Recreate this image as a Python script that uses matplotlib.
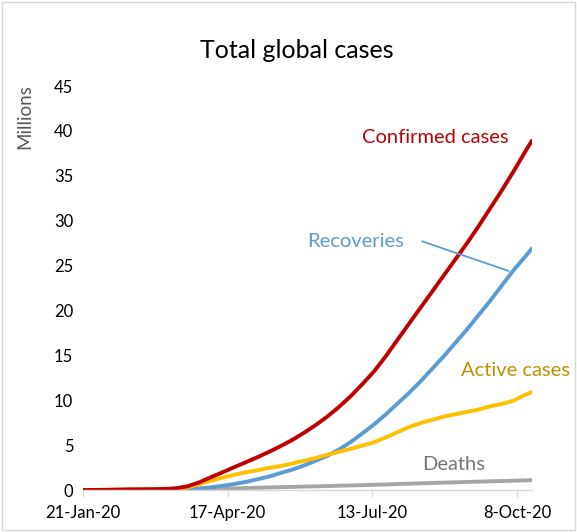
import matplotlib
matplotlib.use("Agg")
import matplotlib.pyplot as plt
from matplotlib.patches import Rectangle
import pandas as pd

plt.rcParams["font.family"] = ["Lato", "DejaVu Sans"]

# weekly cumulative global counts, millions
dates = pd.to_datetime([
    "2020-01-21", "2020-01-28", "2020-02-04", "2020-02-11", "2020-02-18",
    "2020-02-25", "2020-03-03", "2020-03-10", "2020-03-17", "2020-03-24",
    "2020-03-31", "2020-04-07", "2020-04-14", "2020-04-21", "2020-04-28",
    "2020-05-05", "2020-05-12", "2020-05-19", "2020-05-26", "2020-06-02",
    "2020-06-09", "2020-06-16", "2020-06-23", "2020-06-30", "2020-07-07",
    "2020-07-14", "2020-07-21", "2020-07-28", "2020-08-04", "2020-08-11",
    "2020-08-18", "2020-08-25", "2020-09-01", "2020-09-08", "2020-09-15",
    "2020-09-22", "2020-09-29", "2020-10-06", "2020-10-13", "2020-10-17",
])
confirmed = [0.0006, 0.0056, 0.024, 0.045, 0.075, 0.081, 0.093, 0.119, 0.198, 0.42,
             0.86, 1.43, 1.98, 2.55, 3.10, 3.66, 4.26, 4.90, 5.59, 6.38,
             7.24, 8.19, 9.26, 10.45, 11.79, 13.2, 14.87, 16.69, 18.5, 20.3,
             22.1, 23.9, 25.7, 27.5, 29.4, 31.4, 33.4, 35.5, 37.7, 38.9]
recovered = [0.00003, 0.0001, 0.0008, 0.005, 0.016, 0.030, 0.048, 0.064, 0.080, 0.097,
             0.178, 0.30, 0.47, 0.67, 0.91, 1.20, 1.50, 1.90, 2.28, 2.74,
             3.26, 3.81, 4.52, 5.34, 6.3, 7.3, 8.4, 9.6, 10.8, 12.1,
             13.5, 14.9, 16.4, 17.9, 19.5, 21.1, 22.8, 24.5, 26.0, 26.9]
active = [0.0006, 0.0054, 0.023, 0.039, 0.057, 0.048, 0.042, 0.051, 0.110, 0.304,
          0.640, 1.048, 1.383, 1.702, 1.972, 2.207, 2.472, 2.675, 2.961, 3.259,
          3.57, 3.936, 4.261, 4.598, 4.947, 5.317, 5.853, 6.426, 7.003, 7.456,
          7.815, 8.174, 8.443, 8.701, 8.965, 9.331, 9.595, 9.96, 10.62, 10.9]
deaths = [0.00002, 0.0001, 0.0004, 0.001, 0.002, 0.0027, 0.0032, 0.0043, 0.0079, 0.019,
          0.042, 0.082, 0.127, 0.178, 0.218, 0.253, 0.288, 0.325, 0.349, 0.381,
          0.410, 0.444, 0.479, 0.512, 0.543, 0.583, 0.617, 0.664, 0.697, 0.744,
          0.785, 0.826, 0.857, 0.899, 0.935, 0.969, 1.005, 1.04, 1.078, 1.10]

tick_dates = pd.to_datetime(["2020-01-21", "2020-04-17", "2020-07-13", "2020-10-08"])
tick_labels = ["21-Jan-20", "17-Apr-20", "13-Jul-20", "8-Oct-20"]

fig = plt.figure(figsize=(5.77, 5.32), dpi=100)
ax = fig.add_axes([0.1438, 0.0789, 0.778, 0.7594])

lw = 2.8
ax.plot(dates, deaths, color="#a5a5a5", lw=lw, solid_capstyle="round")
ax.plot(dates, recovered, color="#5b9bd5", lw=lw, solid_capstyle="round")
ax.plot(dates, active, color="#ffc000", lw=lw, solid_capstyle="round")
ax.plot(dates, confirmed, color="#c00000", lw=lw, solid_capstyle="round")

ax.set_xlim(dates[0], dates[-1])
ax.set_ylim(0, 45)
ax.set_yticks(range(0, 46, 5))
ax.set_xticks(tick_dates)
ax.set_xticklabels(tick_labels)
ax.tick_params(axis="y", length=0, labelsize=12, pad=7)
ax.tick_params(axis="x", length=5, color="#d9d9d9", labelsize=12, pad=6)

for s in ["top", "right", "left"]:
    ax.spines[s].set_visible(False)
ax.spines["bottom"].set_color("#d9d9d9")
ax.spines["bottom"].set_linewidth(1)

ax.set_ylabel("Millions", fontsize=13.5, color="#595959")
ax.yaxis.set_label_coords(-0.111, 0.924)

ax.set_title("Total global cases", fontsize=18, pad=20, x=0.4766)

d0 = dates[0]
lbl = 14.5
ax.text(d0 + pd.Timedelta(days=212), 39.3, "Confirmed cases", color="#c00000",
        fontsize=lbl, ha="center", va="center")
ax.text(d0 + pd.Timedelta(days=164), 27.7, "Recoveries", color="#5b9bd5",
        fontsize=lbl, ha="center", va="center")
ax.annotate("", xy=(d0 + pd.Timedelta(days=256), 24.4),
            xytext=(d0 + pd.Timedelta(days=204), 27.7),
            arrowprops=dict(arrowstyle="-", color="#5b9bd5", lw=1.3,
                            shrinkA=0, shrinkB=0))
ax.text(d0 + pd.Timedelta(days=260), 13.3, "Active cases", color="#bf9000",
        fontsize=lbl, ha="center", va="center")
ax.text(d0 + pd.Timedelta(days=223), 2.8, "Deaths", color="#767676",
        fontsize=lbl, ha="center", va="center")

fig.add_artist(Rectangle((0.004, 0.003), 0.992, 0.994, transform=fig.transFigure,
                         fill=False, edgecolor="#d9d9d9", lw=1))

fig.savefig("out.png", dpi=100)
